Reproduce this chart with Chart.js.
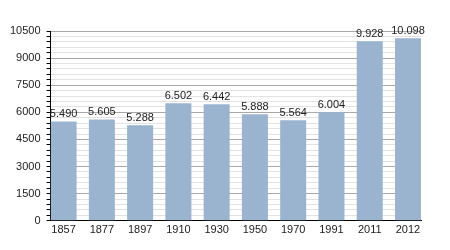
<!DOCTYPE html>
<html>
<head>
<meta charset="utf-8">
<script src="https://cdn.jsdelivr.net/npm/chart.js@4"></script>
<style>
  body { margin: 0; background: #fff; }
</style>
</head>
<body>
<canvas id="popChart" width="450" height="250"></canvas>
<script>
// Datos del gráfico
const years = ['1857', '1877', '1897', '1910', '1930', '1950', '1970', '1991', '2011', '2012'];
const population = [5490, 5605, 5288, 6502, 6442, 5888, 5564, 6004, 9928, 10098];
const yMax = 10500;
const yStep = 300;
const yLabelStep = 1500;
const barFrac = 0.68; // ancho de barra relativo al espacio entre barras

// Formato con punto como separador de miles
function fmt(v) {
    return String(v).replace(/\B(?=(\d{3})+(?!\d))/g, '.');
}

// Etiquetas encima de las barras
const valueLabels = {
    id: 'valueLabels',
    afterDatasetsDraw(chart) {
        const ctx = chart.ctx;
        const meta = chart.getDatasetMeta(0);
        ctx.save();
        ctx.fillStyle = '#222';
        ctx.font = '11px "Liberation Sans", Arial, sans-serif';
        ctx.textAlign = 'center';
        ctx.textBaseline = 'bottom';
        meta.data.forEach((bar, i) => {
            ctx.fillText(fmt(population[i]), bar.x, bar.y - 2);
        });
        ctx.restore();
    }
};

const ctxPop = document.getElementById('popChart').getContext('2d');
const popChart = new Chart(ctxPop, {
    type: 'bar',
    data: {
        datasets: [{
            data: population.map((v, i) => ({ x: i, y: v })),
            backgroundColor: 'rgb(154, 179, 207)',
            borderWidth: 0,
            categoryPercentage: barFrac,
            barPercentage: 1.0
        }]
    },
    options: {
        responsive: false,
        animation: false,
        layout: { padding: { left: 4, right: 29, top: 31, bottom: 10 } },
        plugins: {
            legend: { display: false },
            tooltip: { enabled: false }
        },
        scales: {
            x: {
                type: 'linear',
                offset: false,
                min: -barFrac / 2,
                max: years.length - 1 + barFrac / 2,
                afterBuildTicks: axis => {
                    axis.ticks = years.map((_, i) => ({ value: i }));
                },
                grid: { display: false, drawTicks: false },
                border: { color: '#000', width: 1 },
                ticks: {
                    color: '#222',
                    font: { family: '"Liberation Sans", Arial, sans-serif', size: 11 },
                    padding: 3,
                    maxRotation: 0,
                    autoSkip: false,
                    callback: v => years[v]
                }
            },
            y: {
                min: 0,
                max: yMax,
                border: { color: '#000', width: 1 },
                grid: {
                    color: c => (c.tick.value % yLabelStep === 0 ? '#a8a8a8' : '#e2e2e2'),
                    tickColor: '#000',
                    tickLength: 4,
                    lineWidth: 1
                },
                ticks: {
                    stepSize: yStep,
                    autoSkip: false,
                    color: '#222',
                    font: { family: '"Liberation Sans", Arial, sans-serif', size: 11 },
                    padding: 6,
                    callback: v => (v % yLabelStep === 0 ? v : '')
                }
            }
        }
    },
    plugins: [valueLabels]
});
</script>
</body>
</html>
